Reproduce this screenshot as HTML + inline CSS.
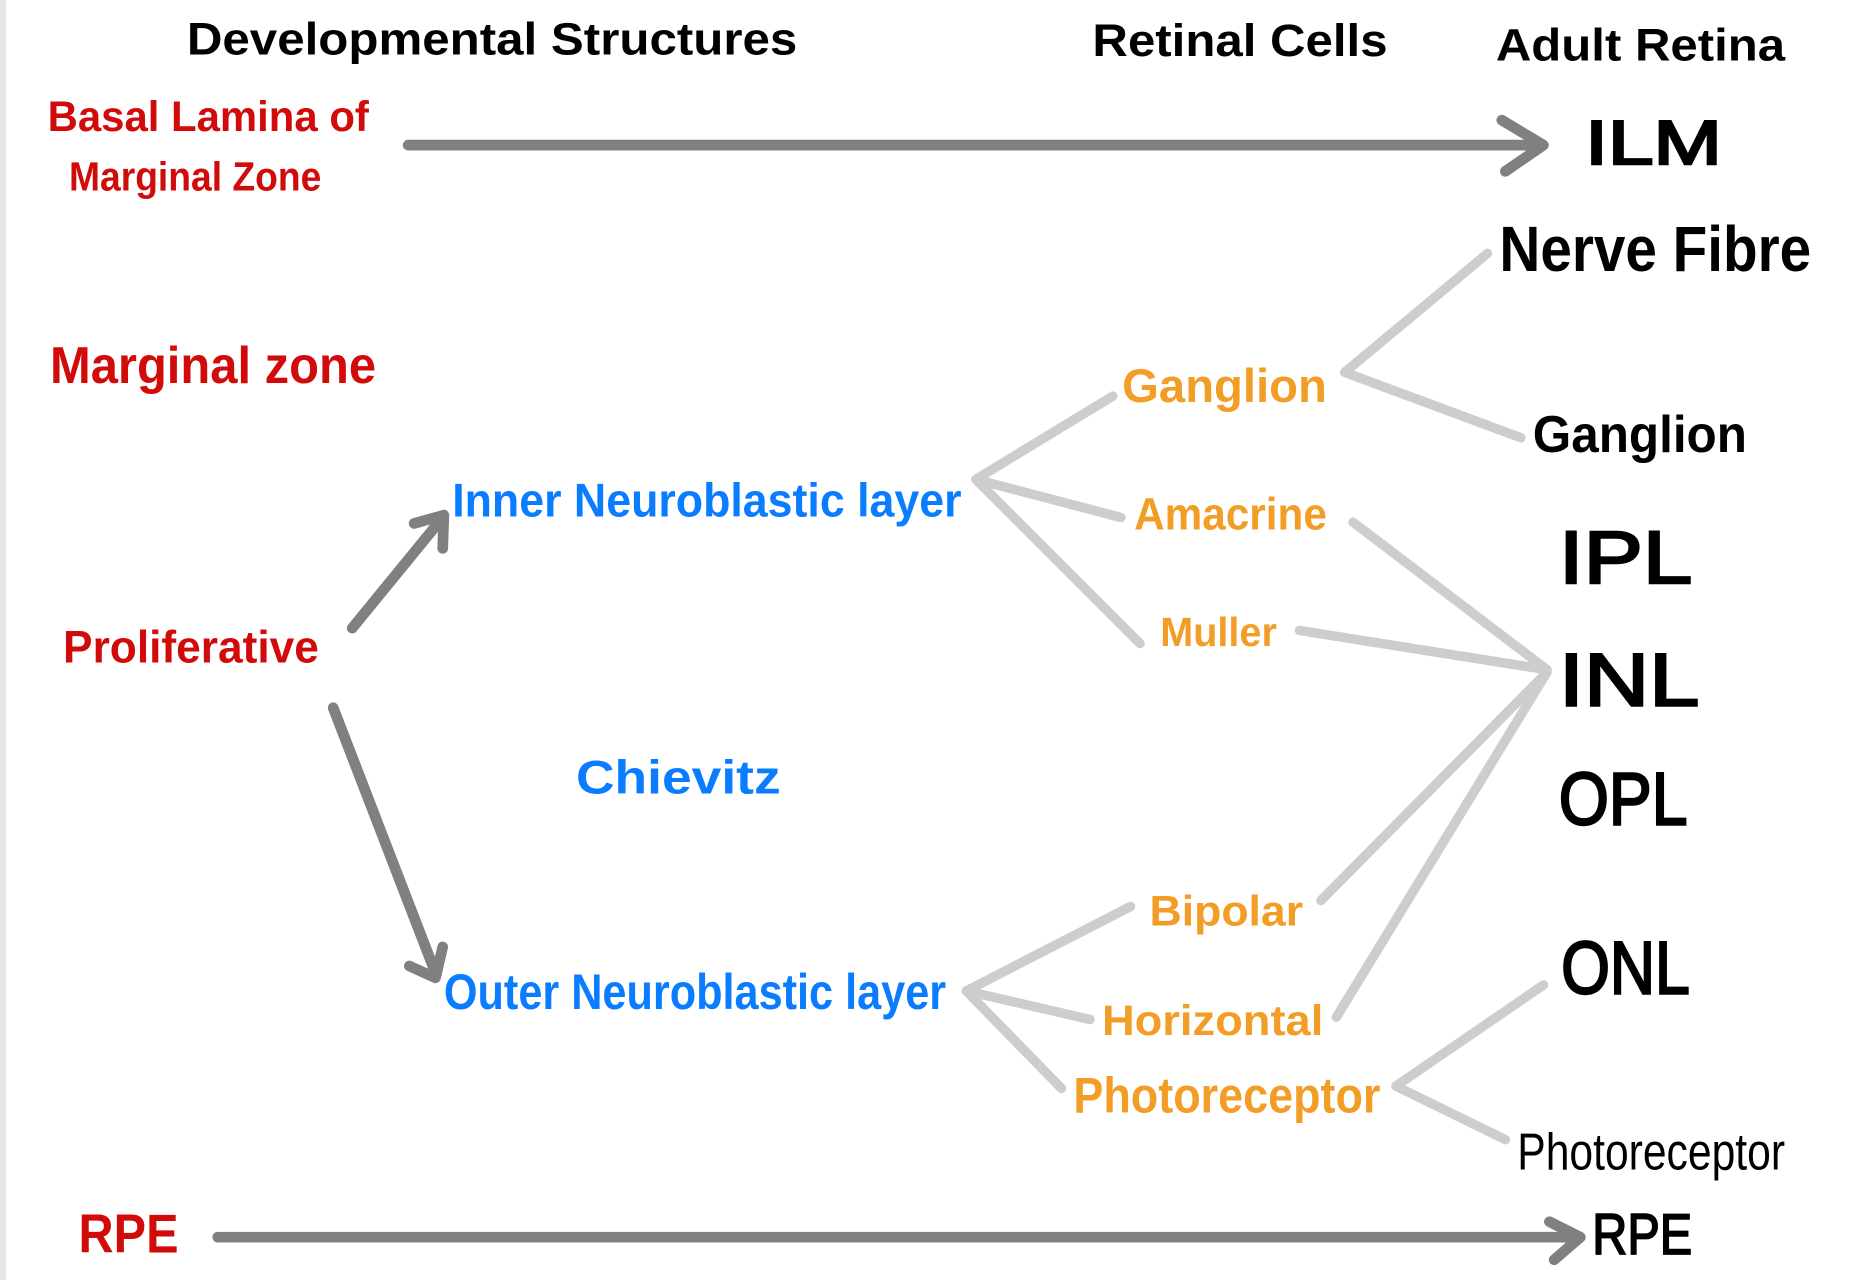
<!DOCTYPE html>
<html><head><meta charset="utf-8"><style>
html,body{margin:0;padding:0;background:#fff;}
svg{display:block;}
text{font-family:"Liberation Sans",sans-serif;}
.r{fill:#d10a0a;font-weight:bold;}
.b{fill:#0a7cff;font-weight:bold;}
.o{fill:#f29d25;font-weight:bold;}
.k{fill:#000;font-weight:bold;}
.h{fill:#000;font-weight:bold;}
.dk{stroke:#555;stroke-opacity:0.75;stroke-width:9;stroke-linecap:round;fill:none;stroke-linejoin:round;}
.lt{stroke:#b8b8b8;stroke-opacity:0.7;stroke-width:8;stroke-linecap:round;fill:none;}
</style></head><body>
<svg width="1860" height="1280" viewBox="0 0 1563 1076" preserveAspectRatio="none" xmlns="http://www.w3.org/2000/svg">
<rect x="0" y="0" width="1563" height="1076" fill="#fff"/>
<rect x="0" y="0" width="5" height="1076" fill="#e6e6e6"/>

<text class="h" x="157" y="46" font-size="38" textLength="513" lengthAdjust="spacingAndGlyphs">Developmental Structures</text>
<text class="h" x="918" y="47" font-size="38" textLength="248" lengthAdjust="spacingAndGlyphs">Retinal Cells</text>
<text class="h" x="1257" y="51" font-size="38" textLength="243" lengthAdjust="spacingAndGlyphs">Adult Retina</text>

<text class="r" x="40" y="110" font-size="36" textLength="270" lengthAdjust="spacingAndGlyphs">Basal Lamina of</text>
<text class="r" x="58" y="160" font-size="34" textLength="212" lengthAdjust="spacingAndGlyphs">Marginal Zone</text>
<text class="r" x="42" y="322" font-size="44" textLength="274" lengthAdjust="spacingAndGlyphs">Marginal zone</text>
<text class="r" x="53" y="557" font-size="38" textLength="215" lengthAdjust="spacingAndGlyphs">Proliferative</text>
<text class="r" x="66" y="1053" font-size="46" textLength="84" lengthAdjust="spacingAndGlyphs">RPE</text>

<text class="b" x="380" y="434" font-size="40" textLength="428" lengthAdjust="spacingAndGlyphs">Inner Neuroblastic layer</text>
<text class="b" x="484" y="667" font-size="40" textLength="172" lengthAdjust="spacingAndGlyphs">Chievitz</text>
<text class="b" x="373" y="848" font-size="42" textLength="422" lengthAdjust="spacingAndGlyphs">Outer Neuroblastic layer</text>

<text class="o" x="943" y="338" font-size="40" textLength="172" lengthAdjust="spacingAndGlyphs">Ganglion</text>
<text class="o" x="953" y="445" font-size="38" textLength="162" lengthAdjust="spacingAndGlyphs">Amacrine</text>
<text class="o" x="975" y="543" font-size="34" textLength="98" lengthAdjust="spacingAndGlyphs">Muller</text>
<text class="o" x="966" y="778" font-size="36" textLength="129" lengthAdjust="spacingAndGlyphs">Bipolar</text>
<text class="o" x="926" y="870" font-size="36" textLength="186" lengthAdjust="spacingAndGlyphs">Horizontal</text>
<text class="o" x="902" y="935" font-size="42" textLength="258" lengthAdjust="spacingAndGlyphs">Photoreceptor</text>

<text class="k" x="1332" y="138" font-size="52" textLength="115" lengthAdjust="spacingAndGlyphs" style="font-weight:normal;stroke:#000;stroke-width:2">ILM</text>
<text class="k" x="1260" y="228" font-size="54" textLength="262" lengthAdjust="spacingAndGlyphs">Nerve Fibre</text>
<text class="k" x="1288" y="380" font-size="44" textLength="180" lengthAdjust="spacingAndGlyphs">Ganglion</text>
<text class="k" x="1310" y="490" font-size="62" textLength="112" lengthAdjust="spacingAndGlyphs" style="font-weight:normal;stroke:#000;stroke-width:2">IPL</text>
<text class="k" x="1310" y="593" font-size="62" textLength="118" lengthAdjust="spacingAndGlyphs" style="font-weight:normal;stroke:#000;stroke-width:2">INL</text>
<text class="k" x="1310" y="693" font-size="62" textLength="108" lengthAdjust="spacingAndGlyphs" style="font-weight:normal;stroke:#000;stroke-width:2">OPL</text>
<text class="k" x="1312" y="835" font-size="62" textLength="108" lengthAdjust="spacingAndGlyphs" style="font-weight:normal;stroke:#000;stroke-width:2">ONL</text>
<text class="k" x="1275" y="983" font-size="44" textLength="225" lengthAdjust="spacingAndGlyphs" style="font-weight:normal">Photoreceptor</text>
<text class="k" x="1338" y="1054" font-size="48" textLength="84" lengthAdjust="spacingAndGlyphs" style="font-weight:normal;stroke:#000;stroke-width:1.5">RPE</text>

<!-- dark arrows -->
<path class="dk" d="M343 122 L1295 122 M1262 101 L1297 122 L1265 144"/>
<path class="dk" d="M296 528 L372 435 M348 440 L373 433 L372 461"/>
<path class="dk" d="M280 595 L366 818 M344 812 L366 822 L372 796"/>
<path class="dk" d="M183 1040 L1326 1040 M1302 1027 L1328 1040 L1306 1059"/>

<!-- light connectors -->
<path class="lt" d="M1130 313 L1250 213 M1130 313 L1278 368"/>
<path class="lt" d="M820 403 L935 333 M820 403 L942 435 M820 403 L958 541"/>
<path class="lt" d="M1137 439 L1300 563 M1092 530 L1300 563 M1110 757 L1300 565 M1123 855 L1300 565"/>
<path class="lt" d="M812 833 L950 762 M812 833 L916 857 M812 833 L892 915"/>
<path class="lt" d="M1173 913 L1297 828 M1173 913 L1265 958"/>
</svg>
</body></html>
